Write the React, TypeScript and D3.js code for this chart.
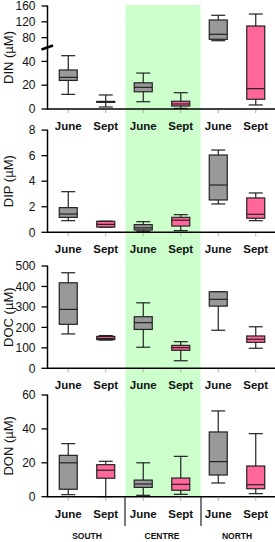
import * as d3 from "d3";

const categories = ["June", "Sept", "June", "Sept", "June", "Sept"];
const regions = ["SOUTH", "CENTRE", "NORTH"];

// [low whisker, q1, median, q3, high whisker]
const din = [
  [12.3, 24, 26.6, 32.8, 44.8],
  [1.7, 5.6, 6, 6.4, 11.8],
  [6.1, 14.5, 18.2, 22, 30.2],
  [0.5, 2.5, 4.2, 6.5, 13.7],
  [72.2, 75.7, 88.4, 124.6, 136.5],
  [3.4, 8.2, 17.1, 109.4, 139.7],
];
const dip = [
  [0.91, 1.17, 1.43, 1.93, 3.18],
  [0.4, 0.41, 0.62, 0.86, 0.87],
  [0.08, 0.18, 0.35, 0.6, 0.83],
  [0.13, 0.49, 0.95, 1.17, 1.38],
  [2.22, 2.53, 3.7, 6.05, 6.44],
  [0.91, 1.1, 1.41, 2.69, 3.08],
];
const doc = [
  [168, 215, 288, 418, 467],
  [138, 140, 146, 156, 160],
  [103, 190, 223, 252, 320],
  [37, 88, 101, 112, 130],
  [186, 304, 337, 374, 374],
  [98, 127, 142, 158, 203],
];
const don = [
  [1.2, 4.4, 20, 24.4, 31.3],
  [0, 10.9, 15.6, 18.9, 20.9],
  [0.8, 5.5, 7.5, 9.8, 20],
  [1.4, 3.8, 7.3, 11, 23.8],
  [8.1, 12.8, 20.7, 38.2, 50.6],
  [1.8, 4.7, 7.1, 18.1, 37.2],
];

const dinTicks = [0, 20, 40, 80, 120, 160];
const dipTicks = [0, 2, 4, 6, 8];
const docTicks = [0, 100, 200, 300, 400, 500];
const donTicks = [0, 20, 40, 60];

const W = 275;
const H = 542;
const axisX = 47.5;
const font = "'Liberation Sans', Arial, sans-serif";
const gray = "#999999";
const pink = "#ff6699";
const ink = "#222";

const x = d3.scaleBand<number>().domain(d3.range(6)).range([49.5, 274.5]);

// DIN has a broken axis
const dinLow = d3.scaleLinear().domain([0, 50]).range([109, 49.5]);
const dinHigh = d3.scaleLinear().domain([55, 160]).range([47.5, 6]);
const dinY = (v: number) => (v <= 52.5 ? dinLow(v) : dinHigh(v));

const panels = [
  { label: "DIN (µM)", data: din, ticks: dinTicks, y: dinY, top: 6, zero: 109, brk: true },
  { label: "DIP (µM)", data: dip, ticks: dipTicks, y: d3.scaleLinear().domain([0, 8]).range([232.3, 130.1]), top: 130.1, zero: 232.3, brk: false },
  { label: "DOC (µM)", data: doc, ticks: docTicks, y: d3.scaleLinear().domain([0, 500]).range([368.3, 266]), top: 266, zero: 368.3, brk: false },
  { label: "DON (µM)", data: don, ticks: donTicks, y: d3.scaleLinear().domain([0, 60]).range([496.7, 395]), top: 395, zero: 496.7, brk: false },
];

const boxW = 18;
const capW = 14;

function Panel({ p }: { p: (typeof panels)[number] }) {
  const y = p.y as (v: number) => number;
  return (
    <g>
      {p.data.map((s, i) => {
        const cx = x(i)! + x.bandwidth() / 2;
        const [lo, q1, med, q3, hi] = s;
        return (
          <g key={i} stroke={ink} strokeWidth={1.2}>
            <line x1={cx} x2={cx} y1={y(hi)} y2={y(lo)} />
            <line x1={cx - capW / 2} x2={cx + capW / 2} y1={y(hi)} y2={y(hi)} />
            <line x1={cx - capW / 2} x2={cx + capW / 2} y1={y(lo)} y2={y(lo)} />
            <rect
              x={cx - boxW / 2}
              width={boxW}
              y={y(q3)}
              height={Math.max(0.5, y(q1) - y(q3))}
              fill={i % 2 === 0 ? gray : pink}
            />
            <line x1={cx - boxW / 2} x2={cx + boxW / 2} y1={y(med)} y2={y(med)} />
          </g>
        );
      })}
      {/* x axis */}
      <line x1={axisX} x2={W} y1={p.zero} y2={p.zero} stroke="#000" strokeWidth={1.5} />
      {categories.map((c, i) => {
        const cx = x(i)! + x.bandwidth() / 2;
        return (
          <g key={i}>
            <line x1={cx} x2={cx} y1={p.zero + 1} y2={p.zero + 4} stroke="#aaa" strokeWidth={1} />
            <text x={cx} y={p.zero + 21} textAnchor="middle" fontFamily={font} fontWeight="bold" fontSize={11.5} fill="#111">
              {c}
            </text>
          </g>
        );
      })}
      {/* y axis */}
      <line x1={axisX} x2={axisX} y1={p.top - 0.5} y2={p.zero + 0.75} stroke="#000" strokeWidth={1.5} />
      {p.ticks.map((t) => (
        <g key={t}>
          <line x1={axisX - 6} x2={axisX} y1={y(t)} y2={y(t)} stroke="#000" strokeWidth={1.3} />
          <text x={35.5} y={y(t) + 4.2} textAnchor="end" fontFamily={font} fontSize={12} fill="#111">
            {t}
          </text>
        </g>
      ))}
      {p.brk && (
        <line x1={41.5} x2={53} y1={49.5} y2={45.5} stroke="#000" strokeWidth={2.6} />
      )}
      <text
        transform={`translate(13,${(p.top + p.zero) / 2}) rotate(-90)`}
        textAnchor="middle"
        fontFamily={font}
        fontSize={13}
        fill="#111"
      >
        {p.label}
      </text>
    </g>
  );
}

export default function App() {
  const sepX = [x(2)! + 0.5, x(4)! + 1.5];
  return (
    <svg width={W} height={H} style={{ position: "absolute", left: 0, top: 0, background: "#fff" }}>
      <rect x={x(2)! + 1} y={5} width={x(4)! - x(2)!} height={492} fill="#ccffcc" />
      {panels.map((p, i) => (
        <Panel key={i} p={p} />
      ))}
      {sepX.map((sx, i) => (
        <line key={i} x1={sx} x2={sx} y1={497} y2={526} stroke="#222" strokeWidth={1.2} />
      ))}
      {regions.map((r, i) => (
        <text
          key={r}
          x={x(i * 2)! + x.bandwidth()}
          y={539}
          textAnchor="middle"
          fontFamily={font}
          fontWeight="bold"
          fontSize={8.5}
          fill="#111"
        >
          {r}
        </text>
      ))}
    </svg>
  );
}
